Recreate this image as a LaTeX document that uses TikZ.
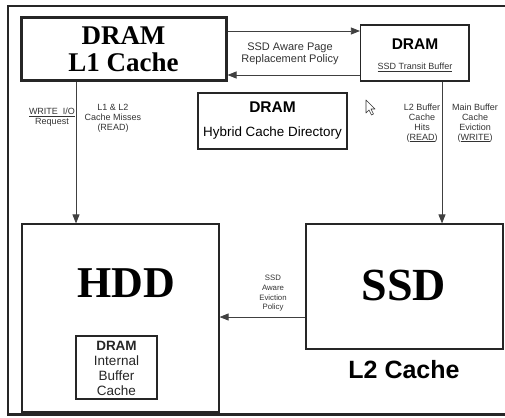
\documentclass[tikz,border=0pt]{standalone}
\usepackage{fontspec}
\setmainfont{Liberation Serif}
\setsansfont{Liberation Sans}
\usetikzlibrary{arrows.meta}
\begin{document}
\begin{tikzpicture}[x=1pt,y=-1pt,
  box/.style={draw=black!85, line width=1.2pt, inner sep=0pt},
  arr/.style={draw=black!75, line width=0.8pt, -{Triangle[length=9pt,width=7pt]}},
  lbl/.style={font=\fontsize{9}{10}\selectfont\sffamily, text=black!80, align=center, inner sep=0pt},
  big/.style={font=\fontsize{#1}{#1}\selectfont\bfseries, align=center, inner sep=0pt},
]
\useasboundingbox (0,0) rectangle (505,417);
\draw[line width=2.5pt, black!85] (505,6) -- (8,6) -- (8,414.5) -- (505,414.5);

% boxes
\node[box, line width=3pt, minimum width=205pt, minimum height=63pt] (l1) at (123.5,49.5) {};
\node[box, minimum width=108.5pt, minimum height=56pt] (transit) at (414.75,53) {};
\node[box, minimum width=149pt, minimum height=56pt] (hybrid) at (272.5,121) {};
\node[box, minimum width=197pt, minimum height=188pt] (hdd) at (120.5,318) {};
\node[box, minimum width=81pt, minimum height=63pt] (inner) at (116.5,367.5) {};
\node[box, minimum width=197pt, minimum height=125pt] (ssd) at (404.5,286.5) {};

% box texts
\node[big=27] (l1t) at (123.5,49.5) {DRAM\\L1 Cache};
\node[font=\fontsize{15.5}{15.5}\selectfont\sffamily\bfseries, inner sep=0pt] (trt1) at (415,44) {DRAM};
\node[lbl, font=\fontsize{9}{10}\selectfont\sffamily] (trt2) at (415,67) {\underline{SSD Transit Buffer}};
\node[font=\fontsize{15.5}{15.5}\selectfont\sffamily\bfseries, inner sep=0pt] (hyt1) at (272.5,107) {DRAM};
\node[lbl, font=\fontsize{13.4}{14}\selectfont\sffamily, text=black] (hyt2) at (272.5,133) {Hybrid Cache Directory};
\node[big=44] (hddt) at (126,283) {HDD};
\node[big=46] (ssdt) at (404,285) {SSD};
\node[font=\fontsize{25}{25}\selectfont\sffamily\bfseries, inner sep=0pt] (l2t) at (404,370) {L2 Cache};
\node[lbl, font=\fontsize{13.5}{15}\selectfont\sffamily, text=black!85] (innert) at (116.5,368.5) {\textbf{DRAM}\\Internal\\Buffer\\Cache};

% connector labels
\node[lbl, font=\fontsize{11}{12}\selectfont\sffamily] (repl) at (290,54) {SSD Aware Page\\Replacement Policy};
\node[lbl] (wio) at (52,117) {\underline{WRITE\ \ I/O}\\Request};
\node[lbl] (miss) at (113,118) {L1 \& L2\\Cache Misses\\(READ)};
\node[lbl] (hits) at (422,123) {L2 Buffer\\Cache\\Hits\\(\underline{READ})};
\node[lbl] (evict) at (475,123) {Main Buffer\\Cache\\Eviction\\(\underline{WRITE})};
\node[lbl, font=\fontsize{7.8}{9.7}\selectfont\sffamily] (ssdev) at (273,293.5) {SSD\\Aware\\Eviction\\Policy};

% connectors
\coordinate (ya) at (0,31);
\coordinate (yb) at (0,75);
\coordinate (xl) at (76,0);
\coordinate (xr) at (442,0);
\coordinate (ye) at (0,317);
\draw[arr] (l1.east|-ya) -- (transit.west|-ya);
\draw[arr] (transit.west|-yb) -- (l1.east|-yb);
\draw[arr] (l1.south-|xl) -- (hdd.north-|xl);
\draw[arr] (transit.south-|xr) -- (ssd.north-|xr);
\draw[arr] (ssd.west|-ye) -- (hdd.east|-ye);

% mouse cursor
\draw[draw=black!80, fill=white, line width=0.6pt, line join=round] (366,100) -- (366,113) -- (369,110) -- (371.5,115) -- (373.5,114) -- (371,109) -- (375,109) -- cycle;
\end{tikzpicture}
\end{document}
